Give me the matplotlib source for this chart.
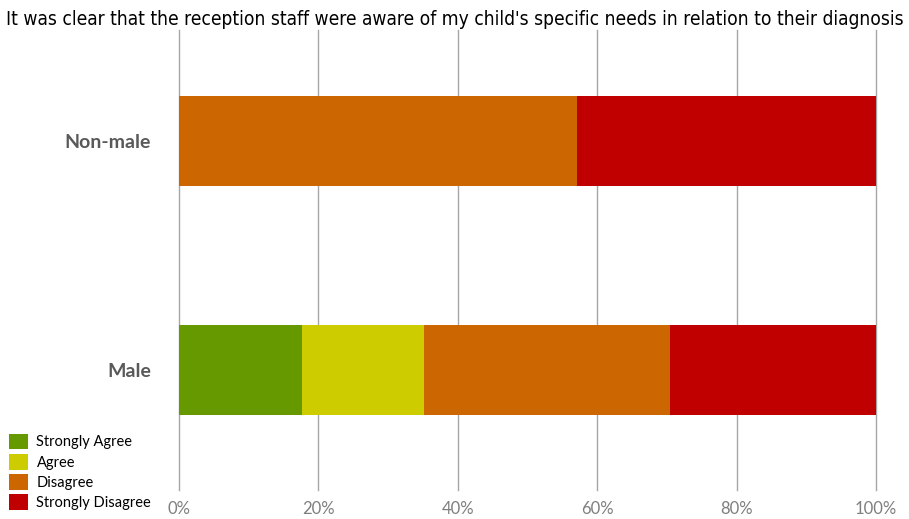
import matplotlib
matplotlib.use('Agg')
from matplotlib import pyplot as plt
from matplotlib.patches import Patch
from matplotlib import font_manager

# Survey data (percent of respondents)
groups = ['Male', 'Non-male']
responses = ['Strongly Agree', 'Agree', 'Disagree', 'Strongly Disagree']
colors = ['#669900', '#cccc00', '#cc6600', '#c00000']
male_vals = [17.6, 17.6, 35.3, 29.5]
nonmale_vals = [0.0, 0.0, 57.1, 42.9]
x_ticks = [0, 20, 40, 60, 80, 100]
tick_labels = ['0%', '20%', '40%', '60%', '80%', '100%']
title = "It was clear that the reception staff were aware of my child's specific needs in relation to their diagnosis"

plt.rcParams['font.family'] = ['Lato', 'DejaVu Sans']

fig = plt.figure(figsize=(9.09, 5.19), dpi=100)
ax = fig.add_axes([0.1969, 0.0559, 0.7668, 0.8863])

ypos = [0, 1]
left = [0.0, 0.0]
for i in range(len(responses)):
    vals = [male_vals[i], nonmale_vals[i]]
    ax.barh(ypos, vals, left=left, height=0.393, color=colors[i], zorder=3)
    left = [left[j] + vals[j] for j in range(2)]

ax.set_xlim(0, 100)
ax.set_ylim(-0.524, 1.485)
ax.set_xticks(x_ticks)
ax.set_xticklabels(tick_labels)
ax.tick_params(axis='x', length=0, labelsize=12, labelcolor='#7f7f7f', pad=8)
ax.set_yticks(ypos)
ax.set_yticklabels(groups, fontweight='bold')
ax.tick_params(axis='y', length=0, labelsize=14, labelcolor='#595959', pad=20)
ax.grid(axis='x', color='#a6a6a6', linewidth=1, zorder=0)
for gl in ax.get_xgridlines():
    gl.set_clip_on(False)
for s in ax.spines.values():
    s.set_visible(False)

# condensed face if one is installed, otherwise plain Lato
cond = [f.name for f in font_manager.fontManager.ttflist if 'Condensed' in f.fname]
if cond:
    title_font = [cond[0], 'DejaVu Sans']
else:
    title_font = ['Lato', 'DejaVu Sans']
title_size = 14.5
t = fig.text(0.5, 0.963, title, ha='center', va='center', fontsize=title_size,
             family=title_font, fontstretch='condensed', color='black')
fig.canvas.draw()
w = t.get_window_extent().width
if w > 895:
    t.set_fontsize(title_size * 895 / w)

handles = [Patch(facecolor=c, edgecolor='none') for c in colors]
fig.legend(handles, responses, loc='lower left', bbox_to_anchor=(0.0, 0.0),
           frameon=False, fontsize=10.5, handlelength=1.3, handleheight=1.3,
           handletextpad=0.6, labelspacing=0.3, borderaxespad=0.3, borderpad=0.3)

plt.savefig('out.png', dpi=100)
plt.close()
